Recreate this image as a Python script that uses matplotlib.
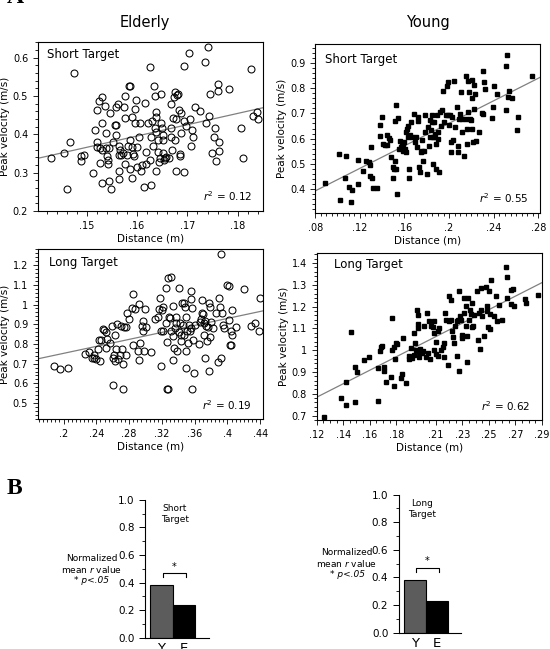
import numpy as np
import matplotlib.pyplot as plt
from matplotlib.ticker import MultipleLocator, FixedLocator, FuncFormatter

plt.rcParams['font.family'] = 'DejaVu Sans'

# ---- data ----
# Elderly, short target (distance m, peak velocity m/s)
es_pts = [(0.1429, 0.337), (0.1455, 0.350), (0.1474, 0.560), (0.1466, 0.381), (0.1461, 0.258),
          (0.1488, 0.343), (0.1488, 0.330), (0.1495, 0.345), (0.1513, 0.300), (0.1516, 0.410),
          (0.1520, 0.463), (0.1524, 0.487), (0.1530, 0.497), (0.1520, 0.380), (0.1520, 0.367),
          (0.1526, 0.363), (0.1530, 0.360), (0.1526, 0.326), (0.1531, 0.273), (0.1531, 0.430),
          (0.1536, 0.473), (0.1538, 0.402), (0.1539, 0.364), (0.1541, 0.344), (0.1543, 0.323),
          (0.1543, 0.334), (0.1545, 0.364), (0.1544, 0.277), (0.1548, 0.258), (0.1546, 0.456),
          (0.1553, 0.380), (0.1556, 0.423), (0.1559, 0.425), (0.1558, 0.397), (0.1559, 0.470),
          (0.1563, 0.478), (0.1564, 0.303), (0.1564, 0.283), (0.1564, 0.370), (0.1566, 0.358),
          (0.1564, 0.345), (0.1569, 0.345), (0.1572, 0.350), (0.1574, 0.470), (0.1576, 0.500),
          (0.1576, 0.443), (0.1576, 0.322), (0.1579, 0.345), (0.1581, 0.370), (0.1584, 0.525),
          (0.1586, 0.525), (0.1586, 0.384), (0.1586, 0.310), (0.1589, 0.445), (0.1590, 0.287),
          (0.1590, 0.367), (0.1592, 0.348), (0.1593, 0.343), (0.1595, 0.428), (0.1595, 0.467),
          (0.1597, 0.489), (0.1599, 0.315), (0.1600, 0.367), (0.1604, 0.393), (0.1605, 0.430),
          (0.1607, 0.303), (0.1609, 0.319), (0.1613, 0.263), (0.1615, 0.482), (0.1618, 0.354),
          (0.1618, 0.323), (0.1622, 0.430), (0.1625, 0.574), (0.1625, 0.332), (0.1627, 0.267),
          (0.1628, 0.393), (0.1630, 0.434), (0.1632, 0.369), (0.1633, 0.527), (0.1635, 0.499),
          (0.1635, 0.415), (0.1637, 0.458), (0.1637, 0.445), (0.1638, 0.303), (0.1638, 0.406),
          (0.1642, 0.384), (0.1642, 0.354), (0.1643, 0.328), (0.1645, 0.337), (0.1647, 0.504),
          (0.1648, 0.430), (0.1650, 0.415), (0.1651, 0.397), (0.1651, 0.384), (0.1651, 0.350),
          (0.1653, 0.334), (0.1656, 0.337), (0.1658, 0.341), (0.1664, 0.337), (0.1668, 0.393),
          (0.1668, 0.417), (0.1668, 0.478), (0.1670, 0.358), (0.1671, 0.443), (0.1673, 0.497),
          (0.1675, 0.510), (0.1676, 0.384), (0.1677, 0.304), (0.1678, 0.439), (0.1680, 0.501),
          (0.1682, 0.504), (0.1683, 0.464), (0.1685, 0.348), (0.1686, 0.343), (0.1687, 0.402),
          (0.1688, 0.456), (0.1693, 0.302), (0.1694, 0.578), (0.1694, 0.435), (0.1697, 0.421),
          (0.1703, 0.612), (0.1705, 0.439), (0.1707, 0.369), (0.1709, 0.410), (0.1712, 0.393),
          (0.1715, 0.470), (0.1725, 0.460), (0.1734, 0.589), (0.1737, 0.428), (0.1740, 0.628),
          (0.1742, 0.447), (0.1745, 0.506), (0.1749, 0.351), (0.1753, 0.393), (0.1755, 0.417),
          (0.1757, 0.330), (0.1760, 0.513), (0.1761, 0.532), (0.1763, 0.380), (0.1763, 0.357),
          (0.1783, 0.517), (0.1806, 0.417), (0.1810, 0.337), (0.1826, 0.571), (0.1830, 0.447),
          (0.1838, 0.458), (0.1840, 0.439)]

# Young, short target
ys_pts = [(0.0884, 0.425), (0.1015, 0.539), (0.1024, 0.356), (0.1078, 0.532), (0.1063, 0.445),
          (0.1100, 0.408), (0.1122, 0.347), (0.1134, 0.395), (0.1188, 0.515), (0.1188, 0.419),
          (0.1227, 0.472), (0.1257, 0.510), (0.1284, 0.508), (0.1287, 0.495), (0.1293, 0.452),
          (0.1301, 0.566), (0.1313, 0.445), (0.1316, 0.403), (0.1352, 0.403), (0.1382, 0.655),
          (0.1382, 0.609), (0.1403, 0.686), (0.1412, 0.579), (0.1427, 0.576), (0.1442, 0.576),
          (0.1442, 0.613), (0.1463, 0.602), (0.1472, 0.593), (0.1481, 0.526), (0.1501, 0.486),
          (0.1501, 0.445), (0.1510, 0.479), (0.1516, 0.512), (0.1522, 0.479), (0.1516, 0.670),
          (0.1525, 0.733), (0.1531, 0.379), (0.1546, 0.682), (0.1552, 0.559), (0.1561, 0.589),
          (0.1570, 0.566), (0.1576, 0.576), (0.1585, 0.579), (0.1591, 0.552), (0.1600, 0.586),
          (0.1606, 0.559), (0.1612, 0.546), (0.1615, 0.626), (0.1621, 0.639), (0.1630, 0.649),
          (0.1636, 0.606), (0.1642, 0.479), (0.1645, 0.445), (0.1651, 0.613), (0.1660, 0.666),
          (0.1666, 0.606), (0.1681, 0.699), (0.1696, 0.586), (0.1704, 0.606), (0.1710, 0.566),
          (0.1719, 0.669), (0.1725, 0.686), (0.1731, 0.486), (0.1740, 0.466), (0.1746, 0.546),
          (0.1755, 0.552), (0.1761, 0.593), (0.1770, 0.512), (0.1779, 0.552), (0.1785, 0.626),
          (0.1785, 0.693), (0.1800, 0.461), (0.1809, 0.646), (0.1821, 0.572), (0.1830, 0.673),
          (0.1830, 0.606), (0.1839, 0.633), (0.1845, 0.693), (0.1851, 0.666), (0.1854, 0.606),
          (0.1860, 0.499), (0.1866, 0.666), (0.1869, 0.606), (0.1875, 0.619), (0.1881, 0.479),
          (0.1884, 0.579), (0.1890, 0.693), (0.1896, 0.626), (0.1904, 0.599), (0.1910, 0.466),
          (0.1919, 0.706), (0.1928, 0.649), (0.1934, 0.713), (0.1943, 0.789), (0.1958, 0.666),
          (0.1970, 0.693), (0.1979, 0.809), (0.1988, 0.693), (0.1994, 0.826), (0.2000, 0.653),
          (0.2009, 0.693), (0.2015, 0.546), (0.2018, 0.586), (0.2024, 0.686), (0.2033, 0.593),
          (0.2048, 0.830), (0.2054, 0.646), (0.2069, 0.726), (0.2078, 0.546), (0.2084, 0.572),
          (0.2090, 0.679), (0.2099, 0.699), (0.2107, 0.786), (0.2113, 0.626), (0.2119, 0.679),
          (0.2137, 0.532), (0.2149, 0.847), (0.2152, 0.679), (0.2158, 0.639), (0.2164, 0.579),
          (0.2167, 0.706), (0.2173, 0.829), (0.2182, 0.786), (0.2188, 0.679), (0.2194, 0.673),
          (0.2203, 0.760), (0.2203, 0.639), (0.2209, 0.833), (0.2218, 0.586), (0.2224, 0.719),
          (0.2227, 0.813), (0.2233, 0.777), (0.2239, 0.590), (0.2269, 0.626), (0.2293, 0.703),
          (0.2301, 0.869), (0.2307, 0.699), (0.2313, 0.826), (0.2322, 0.797), (0.2388, 0.683),
          (0.2397, 0.726), (0.2406, 0.809), (0.2427, 0.777), (0.2507, 0.713), (0.2510, 0.887),
          (0.2522, 0.933), (0.2531, 0.766), (0.2540, 0.790), (0.2567, 0.760), (0.2606, 0.635),
          (0.2621, 0.686), (0.2746, 0.849)]

# Elderly, long target
el_pts = [(0.1878, 0.687), (0.1960, 0.675), (0.2053, 0.678), (0.2263, 0.749), (0.2316, 0.758),
          (0.2345, 0.729), (0.2373, 0.729), (0.2393, 0.726), (0.2377, 0.746), (0.2426, 0.776),
          (0.2438, 0.822), (0.2458, 0.822), (0.2446, 0.712), (0.2478, 0.877), (0.2499, 0.872),
          (0.2519, 0.859), (0.2527, 0.827), (0.2519, 0.779), (0.2567, 0.805), (0.2588, 0.889),
          (0.2600, 0.729), (0.2600, 0.594), (0.2616, 0.742), (0.2628, 0.712), (0.2628, 0.843),
          (0.2640, 0.776), (0.2657, 0.901), (0.2669, 0.726), (0.2689, 0.746), (0.2697, 0.889),
          (0.2709, 0.776), (0.2722, 0.569), (0.2722, 0.699), (0.2738, 0.884), (0.2762, 0.884),
          (0.2762, 0.746), (0.2778, 0.956), (0.2803, 0.928), (0.2831, 0.981), (0.2843, 0.796),
          (0.2851, 1.052), (0.2872, 0.978), (0.2904, 0.763), (0.2920, 1.003), (0.2924, 0.721),
          (0.2932, 0.805), (0.2953, 0.889), (0.2965, 0.914), (0.2973, 0.867), (0.2985, 0.763),
          (0.2993, 0.976), (0.3001, 0.885), (0.3066, 0.758), (0.3115, 0.928), (0.3155, 0.939),
          (0.3167, 0.976), (0.3176, 1.035), (0.3188, 0.687), (0.3188, 0.867), (0.3196, 0.973),
          (0.3208, 0.864), (0.3216, 0.985), (0.3244, 0.906), (0.3248, 1.082), (0.3257, 0.572),
          (0.3257, 0.810), (0.3277, 1.136), (0.3277, 0.574), (0.3289, 0.939), (0.3297, 0.934),
          (0.3305, 0.867), (0.3317, 1.141), (0.3330, 0.993), (0.3338, 0.838), (0.3338, 0.721),
          (0.3350, 0.780), (0.3358, 0.880), (0.3370, 0.906), (0.3378, 0.939), (0.3390, 0.763),
          (0.3403, 1.082), (0.3411, 0.860), (0.3419, 0.906), (0.3431, 0.847), (0.3439, 0.813),
          (0.3447, 1.010), (0.3459, 0.897), (0.3467, 1.010), (0.3471, 0.847), (0.3480, 0.990),
          (0.3488, 0.939), (0.3500, 0.763), (0.3500, 0.678), (0.3508, 0.864), (0.3520, 0.805),
          (0.3528, 0.897), (0.3540, 0.864), (0.3549, 1.069), (0.3553, 1.029), (0.3561, 0.880),
          (0.3569, 0.981), (0.3573, 0.572), (0.3581, 0.822), (0.3593, 0.653), (0.3601, 0.894),
          (0.3650, 0.800), (0.3662, 0.911), (0.3682, 0.928), (0.3690, 0.956), (0.3694, 1.024),
          (0.3702, 0.951), (0.3710, 0.847), (0.3715, 0.906), (0.3723, 0.914), (0.3731, 0.729),
          (0.3743, 0.889), (0.3751, 0.813), (0.3763, 0.884), (0.3771, 0.662), (0.3775, 1.010),
          (0.3784, 0.990), (0.3792, 0.833), (0.3804, 0.911), (0.3824, 0.880), (0.3865, 0.956),
          (0.3885, 0.709), (0.3897, 1.035), (0.3905, 0.985), (0.3917, 1.254), (0.3917, 0.729),
          (0.3938, 0.956), (0.3946, 0.897), (0.3958, 0.880), (0.3998, 1.099), (0.4019, 1.094),
          (0.4019, 0.923), (0.4027, 0.793), (0.4039, 0.793), (0.4047, 0.867), (0.4059, 0.847),
          (0.4059, 0.973), (0.4108, 0.884), (0.4201, 1.077), (0.4290, 0.889), (0.4331, 0.906),
          (0.4383, 0.867), (0.4392, 1.035)]

# Young, long target
yl_pts = [(0.1255, 0.694), (0.1380, 0.779), (0.1423, 0.749), (0.1423, 0.853), (0.1461, 1.083),
          (0.1491, 0.761), (0.1486, 0.922), (0.1503, 0.899), (0.1556, 0.956), (0.1591, 0.968),
          (0.1661, 0.767), (0.1666, 0.920), (0.1674, 0.998), (0.1686, 1.014), (0.1694, 1.020),
          (0.1711, 0.925), (0.1711, 0.905), (0.1724, 0.856), (0.1757, 0.876), (0.1769, 1.147),
          (0.1767, 1.002), (0.1782, 1.017), (0.1787, 0.836), (0.1792, 0.959), (0.1799, 1.032),
          (0.1807, 1.028), (0.1837, 0.871), (0.1842, 0.890), (0.1849, 1.055), (0.1874, 0.851),
          (0.1895, 0.959), (0.1900, 0.974), (0.1912, 1.012), (0.1920, 0.966), (0.1932, 1.081),
          (0.1937, 0.979), (0.1942, 1.035), (0.1950, 1.002), (0.1957, 1.185), (0.1962, 1.162),
          (0.1967, 1.121), (0.1967, 1.101), (0.1970, 0.994), (0.1975, 0.968), (0.1982, 1.005),
          (0.1992, 0.986), (0.2000, 0.998), (0.2012, 1.112), (0.2025, 0.971), (0.2032, 1.170),
          (0.2043, 0.986), (0.2050, 1.132), (0.2058, 0.959), (0.2063, 1.113), (0.2075, 1.106),
          (0.2083, 1.081), (0.2088, 1.132), (0.2088, 1.002), (0.2100, 0.983), (0.2100, 1.040),
          (0.2113, 0.974), (0.2118, 1.086), (0.2125, 1.101), (0.2138, 1.002), (0.2150, 1.017),
          (0.2158, 0.968), (0.2163, 1.032), (0.2170, 1.173), (0.2175, 1.139), (0.2188, 0.930),
          (0.2200, 1.135), (0.2200, 1.251), (0.2213, 1.231), (0.2213, 1.139), (0.2218, 1.086),
          (0.2226, 1.063), (0.2238, 1.032), (0.2246, 1.109), (0.2258, 1.132), (0.2263, 0.974),
          (0.2268, 1.137), (0.2276, 1.274), (0.2276, 0.905), (0.2283, 1.155), (0.2288, 1.137),
          (0.2296, 1.070), (0.2301, 1.055), (0.2313, 1.239), (0.2313, 1.170), (0.2326, 1.204),
          (0.2326, 1.109), (0.2333, 1.066), (0.2338, 0.948), (0.2343, 1.242), (0.2351, 1.137),
          (0.2358, 1.185), (0.2363, 1.167), (0.2371, 1.106), (0.2376, 1.219), (0.2383, 1.112),
          (0.2388, 1.161), (0.2414, 1.273), (0.2419, 1.047), (0.2426, 1.173), (0.2431, 1.005),
          (0.2439, 1.285), (0.2444, 1.185), (0.2451, 1.155), (0.2464, 1.067), (0.2476, 1.292),
          (0.2484, 1.204), (0.2489, 1.178), (0.2494, 1.106), (0.2501, 1.270), (0.2506, 1.165),
          (0.2509, 1.096), (0.2514, 1.323), (0.2539, 1.155), (0.2552, 1.247), (0.2564, 1.132),
          (0.2577, 1.208), (0.2602, 1.137), (0.2632, 1.384), (0.2634, 1.334), (0.2634, 1.239),
          (0.2664, 1.213), (0.2669, 1.277), (0.2684, 1.280), (0.2689, 1.201), (0.2770, 1.234),
          (0.2782, 1.216), (0.2870, 1.254)]

r2_labels = ['0.12', '0.55', '0.19', '0.62']
groups = ['Y', 'E']
short_r = [0.385, 0.24]
long_r = [0.385, 0.228]
sig_y = 0.47

fig = plt.figure(figsize=(5.5, 6.49), dpi=100)

xfmt = FuncFormatter(lambda v, p: f'{round(v, 3):g}'.lstrip('0') if v > 0 else '0')
yfmt = FuncFormatter(lambda v, p: f'{round(v, 3):g}')


def scatter_panel(rect, pts, xlim, ylim, xmaj, xmin, ymaj, ymin, name, r2, young, lab_xy):
    ax = fig.add_axes(rect)
    x = np.array([p[0] for p in pts])
    y = np.array([p[1] for p in pts])
    if young:
        ax.plot(x, y, 's', ms=2.4, color='black', zorder=3)
    else:
        ax.plot(x, y, 'o', ms=5.0, mfc='none', mec='black', mew=0.75, zorder=3)
    # least squares line through the points
    k, b = np.polyfit(x, y, 1)
    xx = np.array(xlim)
    ax.plot(xx, k * xx + b, color='#808080', lw=0.9, zorder=2)
    ax.set_xlim(xlim)
    ax.set_ylim(ylim)
    if isinstance(xmaj, list):
        ax.xaxis.set_major_locator(FixedLocator(xmaj))
    else:
        ax.xaxis.set_major_locator(MultipleLocator(xmaj))
    ax.xaxis.set_minor_locator(MultipleLocator(xmin))
    ax.yaxis.set_major_locator(MultipleLocator(ymaj))
    ax.yaxis.set_minor_locator(MultipleLocator(ymin))
    ax.xaxis.set_major_formatter(xfmt)
    ax.yaxis.set_major_formatter(yfmt)
    ax.tick_params(which='both', direction='out', top=False, right=False, labelsize=7, width=0.6)
    ax.tick_params(which='major', length=3.5)
    ax.tick_params(which='minor', length=2)
    for s in ax.spines.values():
        s.set_linewidth(0.8)
    ax.set_xlabel('Distance (m)', fontsize=7.5, labelpad=2)
    ax.set_ylabel('Peak velocity (m/s)', fontsize=7.5, labelpad=2)
    ax.text(lab_xy[0], lab_xy[1], name, transform=ax.transAxes, fontsize=8.5, va='top')
    ax.text(0.95, 0.085, r'$r^2$ = ' + r2, transform=ax.transAxes, fontsize=7.5,
            ha='right', va='center')
    return ax


scatter_panel([0.069, 0.675, 0.409, 0.26], es_pts, (0.1403, 0.185), (0.2, 0.64),
              0.01, 0.002, 0.1, 0.02, 'Short Target', r2_labels[0], False, (0.04, 0.965))
scatter_panel([0.573, 0.672, 0.409, 0.26], ys_pts, (0.08, 0.2815), (0.305, 0.975),
              0.04, 0.005, 0.1, 0.02, 'Short Target', r2_labels[1], True, (0.044, 0.95))
scatter_panel([0.069, 0.354, 0.409, 0.263], el_pts, (0.1688, 0.4432), (0.418, 1.284),
              0.04, 0.005, 0.1, 0.02, 'Long Target', r2_labels[2], False, (0.05, 0.955))
scatter_panel([0.576, 0.353, 0.409, 0.257], yl_pts, (0.12, 0.29), (0.68, 1.446),
              [0.12, 0.14, 0.16, 0.18, 0.21, 0.23, 0.25, 0.27, 0.29], 0.005, 0.1, 0.02,
              'Long Target', r2_labels[3], True, (0.076, 0.97))

fig.text(0.264, 0.966, 'Elderly', fontsize=10.5, ha='center', va='center')
fig.text(0.778, 0.966, 'Young', fontsize=10.5, ha='center', va='center')
fig.text(0.012, 1.004, 'A', fontsize=17, fontweight='bold', family='Liberation Serif',
         ha='left', va='center')
fig.text(0.012, 0.248, 'B', fontsize=17, fontweight='bold', family='Liberation Serif',
         ha='left', va='center')


def bar_panel(rect, vals, name, name_x, note_xy):
    ax = fig.add_axes(rect)
    ax.bar([0, 1], vals, width=1.0, color=['#5c5c5c', 'black'], edgecolor='black', lw=0.8)
    ax.set_xlim(-0.72, 2.1)
    ax.set_ylim(0, 1.0)
    ax.spines['top'].set_visible(False)
    ax.spines['right'].set_visible(False)
    for s in ax.spines.values():
        s.set_linewidth(0.8)
    ax.set_xticks([0, 1])
    ax.set_xticklabels(groups, fontsize=9.5)
    ax.tick_params(axis='x', length=0, pad=3)
    ax.yaxis.set_major_locator(MultipleLocator(0.2))
    ax.yaxis.set_minor_locator(MultipleLocator(0.1))
    ax.yaxis.set_major_formatter(FuncFormatter(lambda v, p: f'{v:.1f}'))
    ax.tick_params(axis='y', which='major', direction='out', length=4, width=0.7, labelsize=7.5)
    ax.tick_params(axis='y', which='minor', direction='out', length=2.5, width=0.6)
    # significance bracket
    ax.plot([0.05, 0.05, 1.1, 1.1], [sig_y - 0.03, sig_y, sig_y, sig_y - 0.03],
            color='black', lw=0.8, clip_on=False)
    ax.text(0.575, sig_y + 0.01, '*', fontsize=7, ha='center', va='bottom')
    ax.text(name_x, 0.97, name, fontsize=6.5, ha='center', va='top', linespacing=1.3)
    nx, ny = note_xy
    fig.text(nx, ny, 'Normalized', fontsize=6.5, ha='center', va='center')
    fig.text(nx, ny - 0.0165, r'mean $\it{r}$ value', fontsize=6.5, ha='center', va='center')
    fig.text(nx, ny - 0.033, '* p<.05', fontsize=6.5, ha='center', va='center',
             style='italic')


bar_panel([0.264, 0.017, 0.116, 0.213], short_r, 'Short\nTarget', 0.58, (0.167, 0.139))
bar_panel([0.725, 0.025, 0.113, 0.213], long_r, 'Long\nTarget', 0.33, (0.631, 0.148))

fig.savefig('out.png', dpi=100)
